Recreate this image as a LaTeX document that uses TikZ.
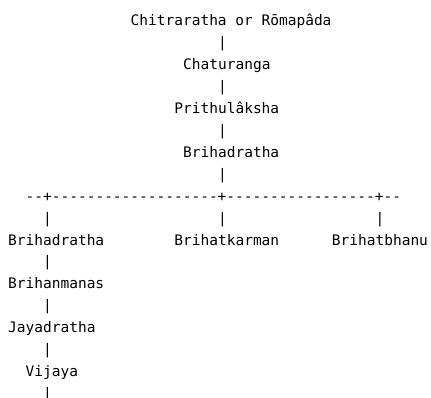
\documentclass[tikz,border=0pt]{standalone}
\usepackage{fontspec}
\setmonofont{DejaVu Sans Mono}
\begin{document}
\begin{tikzpicture}[x=8.75pt,y=-21.9pt,
  t/.style={anchor=base west, inner sep=0pt, font=\ttfamily\fontsize{14.5}{14.5}\selectfont}]
\useasboundingbox[fill=white] (0pt,0pt) rectangle (431pt,-398pt);
\begin{scope}[shift={(8pt,-26pt)}]
\node[t] (chit) at (14,0) {Chitraratha or Rōmapâda};
\node[t] (p1) at (24,1) {|};
\node[t] (chat) at (20,2) {Chaturanga};
\node[t] (p2) at (24,3) {|};
\node[t] (prit) at (19,4) {Prithulâksha};
\node[t] (p3) at (24,5) {|};
\node[t] (briA) at (20,6) {Brihadratha};
\node[t] (p4) at (24,7) {|};
\node[t] (bar) at (2,8) {--+-------------------+-----------------+--};
\node[t] (p5) at (4,9) {|};
\node[t] (p6) at (24,9) {|};
\node[t] (p7) at (42,9) {|};
\node[t] (briB) at (0,10) {Brihadratha};
\node[t] (brik) at (19,10) {Brihatkarman};
\node[t] (brib) at (37,10) {Brihatbhanu};
\node[t] (p8) at (4,11) {|};
\node[t] (brim) at (0,12) {Brihanmanas};
\node[t] (p9) at (4,13) {|};
\node[t] (jaya) at (0,14) {Jayadratha};
\node[t] (p10) at (4,15) {|};
\node[t] (vij) at (2,16) {Vijaya};
\node[t] (p11) at (4,17) {|};
\end{scope}
\end{tikzpicture}
\end{document}
